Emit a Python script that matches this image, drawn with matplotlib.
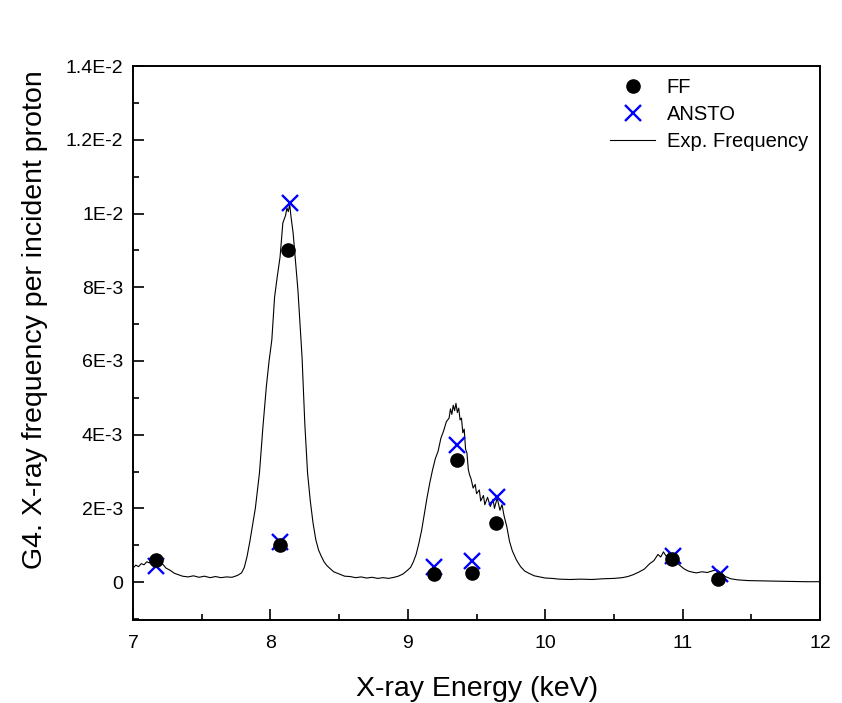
import matplotlib
matplotlib.use("Agg")
import matplotlib.pyplot as plt
from matplotlib.ticker import FixedLocator, FixedFormatter, MultipleLocator

plt.rcParams['font.family'] = ['Liberation Sans', 'DejaVu Sans']

# Experimental spectrum (keV, frequency in units of 1e-3)
exp_energy = [7.00, 7.02, 7.04, 7.06, 7.08, 7.10, 7.12, 7.14, 7.16, 7.18,
              7.20, 7.22, 7.24, 7.27, 7.30, 7.33, 7.36, 7.40, 7.44, 7.48,
              7.52, 7.56, 7.60, 7.64, 7.68, 7.72, 7.76, 7.79, 7.81, 7.83,
              7.85, 7.87, 7.89, 7.92, 7.945, 7.97, 7.99, 8.01, 8.03, 8.05,
              8.07, 8.09, 8.11, 8.12, 8.13, 8.14, 8.15, 8.165, 8.18, 8.20,
              8.215, 8.23, 8.25, 8.27, 8.29, 8.31, 8.33, 8.35, 8.37, 8.39,
              8.41, 8.43, 8.46, 8.50, 8.54, 8.58, 8.62, 8.66, 8.70, 8.74,
              8.78, 8.82, 8.86, 8.90, 8.93, 8.965, 9.00, 9.02, 9.04, 9.06,
              9.08, 9.10, 9.12, 9.14, 9.16, 9.18, 9.20, 9.22, 9.24, 9.26,
              9.28, 9.30, 9.31, 9.32, 9.33, 9.34, 9.35, 9.36, 9.37, 9.38,
              9.39, 9.40, 9.41, 9.42, 9.43, 9.44, 9.45, 9.46, 9.475, 9.49,
              9.50, 9.52, 9.53, 9.55, 9.56, 9.58, 9.60, 9.62, 9.63, 9.65,
              9.67, 9.685, 9.70, 9.72, 9.74, 9.76, 9.79, 9.82, 9.85, 9.88,
              9.92, 9.96, 10.00, 10.05, 10.10, 10.18, 10.26, 10.34, 10.42, 10.50,
              10.56, 10.60, 10.64, 10.68, 10.72, 10.76, 10.79, 10.82, 10.84, 10.86,
              10.88, 10.90, 10.92, 10.95, 10.98, 11.01, 11.04, 11.07, 11.10, 11.14,
              11.18, 11.22, 11.25, 11.28, 11.31, 11.35, 11.40, 11.48, 11.60, 11.75,
              11.90, 12.00]
exp_freq = [0.38, 0.46, 0.42, 0.50, 0.47, 0.55, 0.52, 0.64, 0.58, 0.62,
            0.52, 0.47, 0.38, 0.32, 0.24, 0.20, 0.16, 0.14, 0.17, 0.13,
            0.16, 0.12, 0.15, 0.12, 0.14, 0.13, 0.18, 0.25, 0.40, 0.70,
            1.10, 1.55, 2.00, 2.96, 4.20, 5.30, 6.00, 6.57, 7.73, 8.30,
            8.82, 9.74, 9.95, 10.15, 10.05, 10.25, 9.90, 9.47, 8.80, 7.92,
            7.00, 6.10, 4.30, 2.96, 2.20, 1.60, 1.15, 0.87, 0.70, 0.55,
            0.45, 0.38, 0.28, 0.22, 0.16, 0.15, 0.12, 0.14, 0.11, 0.13,
            0.10, 0.12, 0.10, 0.13, 0.16, 0.22, 0.33, 0.40, 0.55, 0.75,
            1.05, 1.40, 1.85, 2.30, 2.70, 3.05, 3.35, 3.55, 3.90, 4.10,
            4.35, 4.45, 4.70, 4.55, 4.80, 4.65, 4.85, 4.60, 4.72, 4.40,
            4.45, 4.05, 4.15, 3.60, 3.50, 3.05, 2.90, 2.80, 2.55, 2.65,
            2.40, 2.50, 2.20, 2.35, 2.10, 2.30, 2.05, 2.25, 2.00, 2.28,
            1.95, 2.10, 1.80, 1.50, 1.10, 0.85, 0.60, 0.42, 0.30, 0.24,
            0.17, 0.14, 0.11, 0.10, 0.08, 0.07, 0.08, 0.07, 0.09, 0.10,
            0.12, 0.15, 0.20, 0.27, 0.35, 0.50, 0.58, 0.75, 0.68, 0.82,
            0.70, 0.78, 0.65, 0.55, 0.45, 0.36, 0.30, 0.27, 0.25, 0.28,
            0.26, 0.31, 0.33, 0.25, 0.15, 0.09, 0.06, 0.04, 0.03, 0.02,
            0.01, 0.01]

# Calculated points (units of 1e-3)
ff_energy = [7.17, 8.07, 8.13, 9.19, 9.36, 9.47, 9.64, 10.92, 11.26]
ff_freq = [0.60, 1.00, 9.00, 0.22, 3.30, 0.25, 1.60, 0.62, 0.08]
ansto_energy = [7.17, 8.07, 8.14, 9.19, 9.36, 9.47, 9.65, 10.93, 11.27]
ansto_freq = [0.43, 1.08, 10.28, 0.40, 3.72, 0.57, 2.30, 0.70, 0.22]

y_ticks = [0, 2e-3, 4e-3, 6e-3, 8e-3, 1e-2, 1.2e-2, 1.4e-2]
y_tick_labels = ["0", "2E-3", "4E-3", "6E-3", "8E-3", "1E-2", "1.2E-2", "1.4E-2"]
x_ticks = [7, 8, 9, 10, 11, 12]

fig = plt.figure(figsize=(8.42, 7.03), dpi=100)
ax = fig.add_axes([0.158, 0.118, 0.816, 0.788])

ax.plot(exp_energy, [v * 1e-3 for v in exp_freq], color='black', lw=0.8,
        label='Exp. Frequency', zorder=2)
ax.plot(ansto_energy, [v * 1e-3 for v in ansto_freq], linestyle='none', marker='x',
        color='#0000ff', markersize=11, mew=1.7, label='ANSTO', zorder=3)
ax.plot(ff_energy, [v * 1e-3 for v in ff_freq], linestyle='none', marker='o',
        color='black', markersize=9.5, label='FF', zorder=4)

ax.set_xlim(7, 12)
ax.set_ylim(-1.03e-3, 1.4e-2)
ax.xaxis.set_major_locator(FixedLocator(x_ticks))
ax.xaxis.set_minor_locator(MultipleLocator(0.5))
ax.yaxis.set_major_locator(FixedLocator(y_ticks))
ax.yaxis.set_major_formatter(FixedFormatter(y_tick_labels))
ax.yaxis.set_minor_locator(MultipleLocator(1e-3))

ax.tick_params(axis='both', which='major', direction='in', length=8, width=1.2,
               labelsize=14, top=False, right=False)
ax.tick_params(axis='both', which='minor', direction='in', length=4, width=1.2,
               top=False, right=False)
ax.tick_params(axis='y', which='major', pad=7)
ax.tick_params(axis='x', which='major', pad=11)
for s in ax.spines.values():
    s.set_linewidth(1.4)

ax.set_xlabel('X-ray Energy (keV)', fontsize=20.5, labelpad=17)
ax.set_ylabel('G4. X-ray frequency per incident proton', fontsize=20.5)
ax.yaxis.set_label_coords(-0.124, 0.542)

handles, labels = ax.get_legend_handles_labels()
order = [2, 1, 0]
ax.legend([handles[i] for i in order], [labels[i] for i in order],
          loc='upper right', frameon=False, fontsize=14.5, handlelength=2.2,
          borderaxespad=0.2, borderpad=0.4, labelspacing=0.4, handletextpad=0.6)

fig.savefig('out.png', dpi=100)
